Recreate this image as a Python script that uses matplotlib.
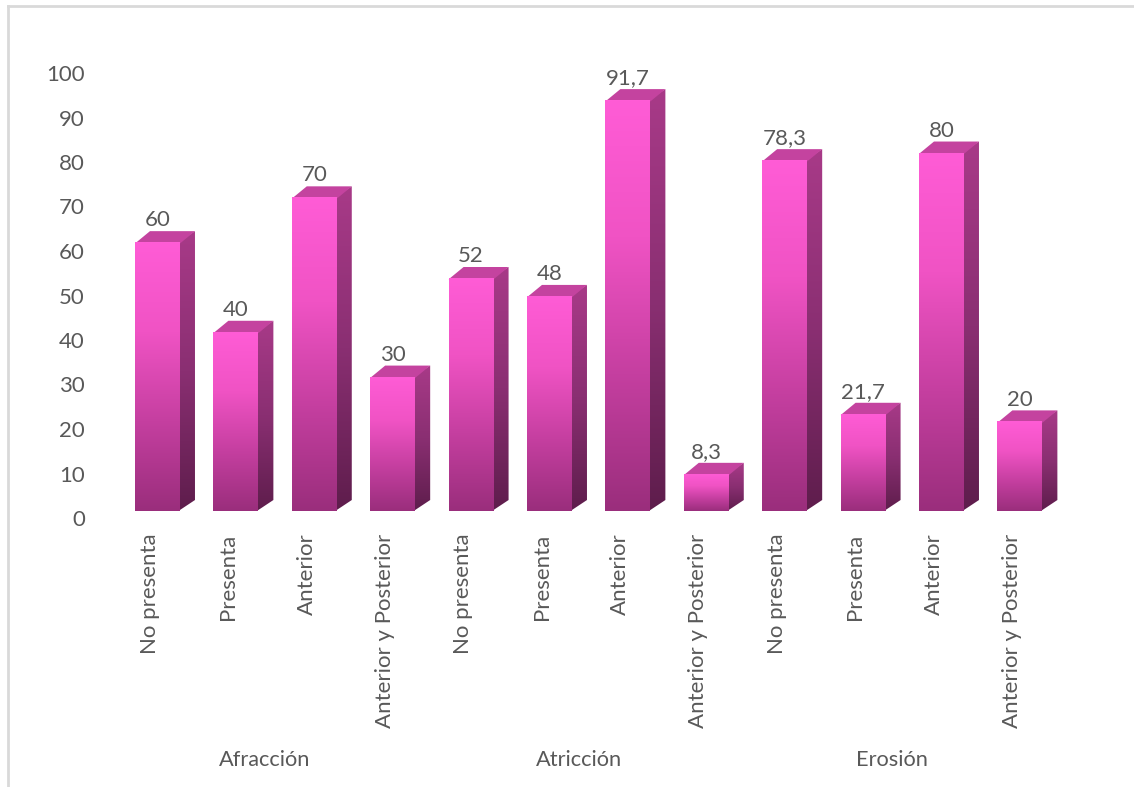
import numpy as np
import matplotlib
matplotlib.use("Agg")
import matplotlib.pyplot as plt
from matplotlib.colors import LinearSegmentedColormap
from matplotlib.lines import Line2D
from matplotlib.patches import Polygon

categories = ["No presenta", "Presenta", "Anterior", "Anterior y Posterior"] * 3
values = [60, 40, 70, 30, 52, 48, 91.7, 8.3, 78.3, 21.7, 80, 20]
value_labels = ["60", "40", "70", "30", "52", "48", "91,7", "8,3", "78,3", "21,7", "80", "20"]
groups = ["Afracción", "Atricción", "Erosión"]
yticks = np.arange(0, 101, 10)

plt.rcParams["font.family"] = ["Lato", "DejaVu Sans"]
TEXT = "#595959"
FS = 16

front_cmap = LinearSegmentedColormap.from_list("front", ["#ff5cd6", "#f053c4", "#c53fa0", "#9a2e7c"])
side_cmap = LinearSegmentedColormap.from_list("side", ["#a83a88", "#8a2f72", "#5e1d4c"])
TOP_COLOR = "#c4439f"

fig = plt.figure(figsize=(11.34, 7.87), dpi=100)
ax = fig.add_axes([118.3 / 1134, (787 - 518) / 787, 940.8 / 1134, 445 / 787])

# the bars sit a little above the axis zero, as in the 3D chart
base = 1.57
stretch = 1.007
half = 0.287
dx = 0.191
dy = 2.47


def gradient_face(points, cmap, z):
    xs = [p[0] for p in points]
    ys = [p[1] for p in points]
    grad = np.linspace(0, 1, 256).reshape(-1, 1)
    im = ax.imshow(grad, cmap=cmap, aspect="auto", origin="upper",
                   extent=(min(xs), max(xs), min(ys), max(ys)), zorder=z)
    poly = Polygon(points, closed=True, transform=ax.transData, fc="none", ec="none")
    ax.add_patch(poly)
    im.set_clip_path(poly)


for i, v in enumerate(values):
    y0 = base
    y1 = base + v * stretch
    l, r = i - half, i + half
    # side goes under the front so no seam shows between them
    gradient_face([(r - 0.02, y0), (r + dx, y0 + dy), (r + dx, y1 + dy), (r - 0.02, y1)], side_cmap, 2)
    ax.add_patch(Polygon([(l, y1 - 0.3), (r, y1 - 0.3), (r + dx, y1 + dy), (l + dx, y1 + dy)],
                         closed=True, fc=TOP_COLOR, ec="none", zorder=2.1))
    gradient_face([(l, y0), (r, y0), (r, y1), (l, y1)], front_cmap, 2.2)
    ax.text(i, y1 + dy + 1.1, value_labels[i], ha="center", va="baseline",
            fontsize=FS, color=TEXT, zorder=3)

ax.set_xlim(-0.5, 11.5)
ax.set_ylim(0, 100)
ax.set_yticks(yticks)
ax.set_xticks(np.arange(12) - 0.10, categories, rotation=90)
ax.tick_params(axis="both", length=0, labelsize=FS, labelcolor=TEXT)
ax.tick_params(axis="y", pad=24)
ax.tick_params(axis="x", pad=11)
for s in ax.spines.values():
    s.set_visible(False)
ax.patch.set_alpha(0)

trans = ax.get_xaxis_transform()
for k, g in enumerate(groups):
    ax.text(1.37 + 4 * k, -0.544, g, transform=trans, ha="center", va="center",
            fontsize=FS - 0.3, color=TEXT)

# outer chart border
border = "#d9d9d9"
fig.add_artist(Line2D([8 / 1134, 8 / 1134], [0, 781 / 787], color=border, lw=2))
fig.add_artist(Line2D([8 / 1134, 1], [781 / 787, 781 / 787], color=border, lw=2))

fig.savefig("out.png", dpi=100)
